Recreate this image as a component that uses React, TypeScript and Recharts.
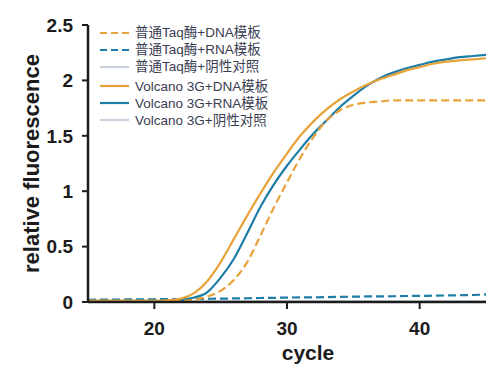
import { LineChart, Line, XAxis, YAxis, Legend } from 'recharts';

const cycles = [15, 16, 17, 18, 19, 20, 21, 22, 23, 24, 25, 26, 27, 28, 29, 30, 31, 32, 33, 34, 35, 36, 37, 38, 39, 40, 41, 42, 43, 44, 45];

// 普通Taq酶
const taqDna = [0.01, 0.01, 0.01, 0.01, 0.01, 0.01, 0.01, 0.01, 0.02, 0.05, 0.1, 0.2, 0.36, 0.6, 0.85, 1.08, 1.3, 1.49, 1.64, 1.73, 1.78, 1.8, 1.81, 1.82, 1.82, 1.82, 1.82, 1.82, 1.82, 1.82, 1.82];
const taqRna = [0.02, 0.021, 0.022, 0.023, 0.024, 0.025, 0.026, 0.027, 0.028, 0.029, 0.03, 0.032, 0.034, 0.036, 0.038, 0.04, 0.041, 0.042, 0.044, 0.046, 0.048, 0.05, 0.051, 0.052, 0.054, 0.055, 0.057, 0.059, 0.061, 0.063, 0.068];
const taqNeg = [0.006, 0.006, 0.006, 0.006, 0.006, 0.006, 0.006, 0.006, 0.006, 0.006, 0.006, 0.006, 0.006, 0.006, 0.006, 0.006, 0.006, 0.006, 0.006, 0.006, 0.006, 0.006, 0.006, 0.006, 0.006, 0.006, 0.006, 0.006, 0.006, 0.006, 0.006];

// Volcano 3G
const volDna = [0.01, 0.01, 0.01, 0.01, 0.01, 0.01, 0.015, 0.03, 0.08, 0.19, 0.36, 0.57, 0.78, 0.98, 1.17, 1.34, 1.5, 1.63, 1.74, 1.83, 1.9, 1.96, 2.01, 2.05, 2.09, 2.12, 2.15, 2.17, 2.18, 2.19, 2.2];
const volRna = [0.01, 0.01, 0.01, 0.01, 0.01, 0.01, 0.01, 0.015, 0.04, 0.09, 0.22, 0.39, 0.62, 0.86, 1.06, 1.23, 1.38, 1.52, 1.64, 1.76, 1.86, 1.95, 2.02, 2.07, 2.11, 2.14, 2.17, 2.19, 2.21, 2.22, 2.23];
const volNeg = [0.004, 0.004, 0.004, 0.004, 0.004, 0.004, 0.004, 0.004, 0.004, 0.004, 0.004, 0.004, 0.004, 0.004, 0.004, 0.004, 0.004, 0.004, 0.004, 0.004, 0.004, 0.004, 0.004, 0.004, 0.004, 0.004, 0.004, 0.004, 0.004, 0.004, 0.004];

const xTicks = [20, 30, 40];
const yTicks = [0, 0.5, 1, 1.5, 2, 2.5];

const ORANGE = '#E8A23A';
const BLUE = '#1C7DA6';
const PALE = '#C9D3E0';
const AXIS = '#1c1c1c';
const FONT = "'Liberation Sans', Arial, 'Noto Sans CJK SC', sans-serif";

const series = [
  { key: 'taqDna', name: '普通Taq酶+DNA模板', color: ORANGE, dashed: true },
  { key: 'taqRna', name: '普通Taq酶+RNA模板', color: BLUE, dashed: true },
  { key: 'taqNeg', name: '普通Taq酶+阴性对照', color: PALE, dashed: false },
  { key: 'volDna', name: 'Volcano 3G+DNA模板', color: ORANGE, dashed: false },
  { key: 'volRna', name: 'Volcano 3G+RNA模板', color: BLUE, dashed: false },
  { key: 'volNeg', name: 'Volcano 3G+阴性对照', color: PALE, dashed: false },
];

const data = cycles.map((c, i) => ({
  cycle: c,
  taqDna: taqDna[i],
  taqRna: taqRna[i],
  taqNeg: taqNeg[i],
  volDna: volDna[i],
  volRna: volRna[i],
  volNeg: volNeg[i],
}));

// draw order: controls first, dashed Taq DNA on top
const drawOrder = ['taqNeg', 'volNeg', 'taqRna', 'volRna', 'volDna', 'taqDna'];

function LegendBox() {
  return (
    <div style={{ fontFamily: FONT, fontSize: 13.5, color: '#3a3d52', lineHeight: '17px' }}>
      {series.map((s, i) => (
        <div key={s.key} style={{ display: 'flex', alignItems: 'center', height: 17, marginTop: i === 3 ? 2.5 : 0, whiteSpace: 'nowrap' }}>
          <svg width={35} height={6} style={{ flex: 'none' }}>
            <line x1={0} y1={3} x2={29} y2={3} stroke={s.color} strokeWidth={2.2} strokeDasharray={s.dashed ? '7 4' : undefined} />
          </svg>
          <span>{s.name}</span>
        </div>
      ))}
    </div>
  );
}

export default function App() {
  return (
    <div style={{ position: 'absolute', left: 0, top: 0 }}>
      <LineChart width={498} height={370} data={data} margin={{ top: 25, right: 12, left: 0, bottom: 0 }}>
        <XAxis
          dataKey="cycle"
          type="number"
          domain={[15, 45]}
          ticks={xTicks}
          height={68}
          stroke={AXIS}
          strokeWidth={2.5}
          tickSize={7}
          tickMargin={13}
          tick={{ fill: AXIS, fontSize: 19, fontWeight: 700, fontFamily: FONT }}
          tickLine={{ stroke: AXIS, strokeWidth: 2 }}
          label={{
            content: (p: any) => {
              const vb = p.viewBox;
              return (
                <text x={vb.x + vb.width / 2 + 21} y={vb.y + 58} textAnchor="middle" fill={AXIS} fontSize={21} fontWeight={700} fontFamily={FONT}>
                  cycle
                </text>
              );
            },
          }}
        />
        <YAxis
          type="number"
          domain={[0, 2.5]}
          ticks={yTicks}
          width={88}
          stroke={AXIS}
          strokeWidth={2.5}
          tickSize={6}
          tickMargin={9}
          tick={{ fill: AXIS, fontSize: 19, fontWeight: 700, fontFamily: FONT }}
          tickLine={{ stroke: AXIS, strokeWidth: 2 }}
          label={{
            content: (p: any) => {
              const vb = p.viewBox;
              const cx = 39;
              const cy = vb.y + vb.height / 2;
              return (
                <text x={cx} y={cy} transform={`rotate(-90 ${cx} ${cy})`} textAnchor="middle" fill={AXIS} fontSize={22} fontWeight={700} fontFamily={FONT}>
                  relative fluorescence
                </text>
              );
            },
          }}
        />
        <Legend
          layout="horizontal"
          align="center"
          verticalAlign="middle"
          content={() => <LegendBox />}
          wrapperStyle={{ left: 100, top: 24, width: 200, height: 110 }}
        />
        {drawOrder.map((k) => {
          const s = series.find((x) => x.key === k)!;
          return (
            <Line
              key={k}
              type="monotone"
              dataKey={k}
              name={s.name}
              stroke={s.color}
              strokeWidth={s.color === PALE ? 2 : 2.2}
              strokeDasharray={s.dashed ? '8 4' : undefined}
              dot={false}
              activeDot={false}
              isAnimationActive={false}
            />
          );
        })}
      </LineChart>
    </div>
  );
}
